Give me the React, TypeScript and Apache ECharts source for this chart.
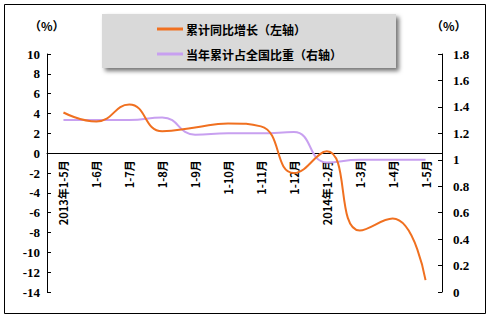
import React, { useEffect, useRef } from "react";
import * as echarts from "echarts";

const categories = [
  "2013年1-5月", "1-6月", "1-7月", "1-8月", "1-9月", "1-10月",
  "1-11月", "1-12月", "2014年1-2月", "1-3月", "1-4月", "1-5月",
];
const growthValues = [4.1, 3.2, 4.9, 2.2, 2.6, 3.0, 2.7, -2.0, 0.2, -7.8, -6.6, -12.8];
const shareValues = [1.3, 1.3, 1.3, 1.32, 1.19, 1.2, 1.2, 1.21, 0.98, 1.0, 1.0, 1.0];
const seriesNames = ["累计同比增长（左轴）", "当年累计占全国比重（右轴）"];
const leftMin = -14;
const leftMax = 10;

const SERIF = "Liberation Serif";
const CJK = "Noto Sans CJK SC";

export default function App() {
  const ref = useRef<HTMLDivElement>(null);
  useEffect(() => {
    const chart = echarts.init(ref.current!, null, { renderer: "svg" });
    const lbl = { color: "#000", fontFamily: SERIF, fontWeight: "bold", fontSize: 13 };
    const gridTop = 54;
    const gridBottom = 27;
    const plotH = 319 - gridTop - gridBottom;
    const zeroOffset = -plotH * (0 - leftMin) / (leftMax - leftMin);
    chart.setOption({
      animation: false,
      backgroundColor: "#fff",
      grid: { left: 47, right: 49, top: gridTop, bottom: gridBottom, containLabel: false, outerBoundsMode: "none" },
      legend: {
        orient: "vertical",
        left: 102,
        top: 14,
        padding: [7, 54, 6, 55],
        itemGap: 9,
        itemWidth: 26,
        itemHeight: 3,
        icon: "rect",
        backgroundColor: "#D9D9D9",
        shadowColor: "rgba(0,0,0,0.55)",
        shadowBlur: 4,
        shadowOffsetX: 3,
        shadowOffsetY: 3,
        textStyle: { color: "#000", fontFamily: CJK, fontWeight: "bold", fontSize: 12, lineHeight: 16, padding: [0, 0, 0, -2] },
        data: seriesNames,
      },
      graphic: [
        { type: "rect", shape: { x: 4.5, y: 4.5, width: 481, height: 309 }, style: { fill: "none", stroke: "#000", lineWidth: 1 }, z: 0 },
        { type: "text", x: 29, y: 19, style: { text: "（%）", fill: "#000", font: "bold 12px " + CJK } },
        { type: "text", x: 431, y: 19, style: { text: "（%）", fill: "#000", font: "bold 12px " + CJK } },
      ],
      xAxis: {
        type: "category",
        data: categories,
        boundaryGap: true,
        offset: zeroOffset,
        axisLine: { onZero: false, lineStyle: { color: "#000", width: 1 } },
        axisTick: { inside: true, length: 4, lineStyle: { color: "#000" } },
        axisLabel: { color: "#000", fontWeight: "bold", rotate: 90, margin: 7, fontFamily: CJK, fontSize: 11, interval: 0 },
        splitLine: { show: false },
      },
      yAxis: [
        {
          type: "value",
          min: leftMin,
          max: leftMax,
          interval: 2,
          axisLine: { show: true, lineStyle: { color: "#000" } },
          axisTick: { show: true, inside: true, length: 4, lineStyle: { color: "#000" } },
          axisLabel: { ...lbl, margin: 7 },
          splitLine: { show: false },
        },
        {
          type: "value",
          min: 0,
          max: 1.8,
          interval: 0.2,
          position: "right",
          axisLine: { show: true, lineStyle: { color: "#000" } },
          axisTick: { show: true, inside: true, length: 4, lineStyle: { color: "#000" } },
          axisLabel: { ...lbl, margin: 11 },
          splitLine: { show: false },
        },
      ],
      series: [
        {
          name: seriesNames[0],
          type: "line",
          yAxisIndex: 0,
          data: growthValues,
          smooth: 0.5,
          symbol: "none",
          lineStyle: { color: "#F07020", width: 2 },
          itemStyle: { color: "#F07020" },
          z: 3,
        },
        {
          name: seriesNames[1],
          type: "line",
          yAxisIndex: 1,
          data: shareValues,
          smooth: 0.5,
          symbol: "none",
          lineStyle: { color: "#C8A0F0", width: 2 },
          itemStyle: { color: "#C8A0F0" },
          z: 2,
        },
      ],
    });
    return () => chart.dispose();
  }, []);
  return (
    <div
      ref={ref}
      style={{ position: "fixed", left: 0, top: 0, width: 491, height: 319 }}
    />
  );
}
